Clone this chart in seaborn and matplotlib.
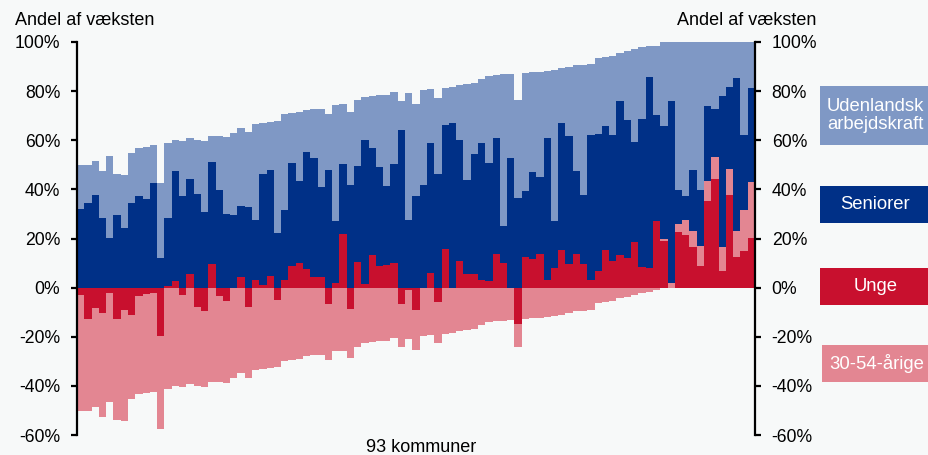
"""
Andel af vaeksten i arbejdsstyrken fordelt paa grupper, 93 kommuner.
"""

import numpy as np
import pandas as pd
import matplotlib
matplotlib.use("Agg")
import matplotlib.pyplot as plt
from matplotlib.patches import Rectangle
from matplotlib.ticker import FuncFormatter
import seaborn as sns

# andele i procent, en vaerdi pr. kommune (sorteret efter bidrag fra 30-54-aarige)
UDENLANDSK = [
    17.8, 15.2, 13.7, 19.0, 33.5, 16.7, 21.7, 20.4, 19.4, 21.3,
    15.3, 30.4, 30.4, 12.9, 22.1, 16.4, 21.9, 28.9, 10.6, 21.9,
    31.3, 33.3, 31.8, 30.5, 39.3, 20.6, 19.8, 45.9, 39.1, 20.2,
    28.0, 16.8, 20.1, 31.9, 22.9, 47.4, 24.2, 29.7, 26.6, 17.5,
    21.2, 29.1, 37.2, 29.2, 12.0, 51.6, 37.7, 38.8, 22.2, 31.2,
    15.0, 14.4, 22.7, 38.8, 29.0, 26.4, 35.2, 25.5, 61.8, 34.2,
    39.9, 48.0, 40.6, 42.7, 27.2, 61.5, 22.2, 28.1, 43.3, 52.9,
    28.9, 31.1, 28.4, 32.2, 19.8, 28.0, 38.0, 29.0, 12.5, 28.4,
    34.4, 24.2, 60.3, 62.5, 52.1, 60.1, 26.1, 27.3, 21.9, 18.4,
    14.7, 37.8, 18.9,
]
SENIORER = [
    32.2, 34.6, 37.8, 28.5, 20.1, 29.7, 24.2, 34.6, 37.5, 36.1,
    42.6, 12.1, 28.0, 44.7, 37.5, 38.7, 38.0, 30.6, 41.7, 39.9,
    30.1, 29.7, 28.9, 32.9, 24.4, 45.2, 42.8, 22.1, 28.4, 41.7,
    33.3, 47.8, 48.3, 36.7, 47.7, 25.1, 28.5, 41.7, 39.1, 58.8,
    43.7, 40.3, 31.9, 40.3, 64.0, 27.7, 37.1, 41.6, 52.6, 46.2,
    50.3, 67.2, 49.0, 38.2, 48.5, 55.4, 48.2, 47.3, 14.8, 52.6,
    36.3, 26.6, 35.3, 31.6, 58.0, 18.9, 51.9, 52.1, 33.7, 28.2,
    59.1, 55.7, 50.1, 51.5, 62.5, 56.2, 40.6, 60.5, 77.7, 42.9,
    45.6, 73.8, 13.8, 9.8, 24.9, 23.1, 30.6, 19.6, 61.5, 33.4,
    62.3, 30.7, 38.1,
]
UNGE = [
    -2.9, -12.6, -8.3, -10.5, -2.2, -12.6, -9.0, -11.0, -3.4, -2.4,
    -2.2, -19.8, 0.5, 2.6, -3.0, 5.7, -7.7, -9.4, 9.6, -3.3,
    -5.6, 0.0, 4.2, -8.0, 3.0, 1.2, 4.9, -5.2, 3.0, 9.0,
    10.0, 7.6, 4.3, 4.2, -6.5, 1.9, 21.9, -8.6, 10.5, 1.5,
    13.3, 9.0, 9.4, 10.2, -6.7, -0.8, -9.1, 0.0, 6.1, -5.7,
    15.8, 0.0, 10.9, 5.7, 5.7, 3.3, 2.7, 13.7, 10.2, 0.0,
    -14.8, 12.6, 11.7, 13.6, 3.1, 8.1, 15.3, 9.8, 13.7, 9.6,
    3.1, 6.8, 15.5, 10.7, 13.3, 12.1, 18.6, 8.3, 8.0, 27.2,
    18.9, 0.0, 22.5, 21.6, 16.4, 8.7, 35.2, 44.4, 6.7, 37.9,
    12.6, 14.8, 20.1,
]
AARIGE_30_54 = [
    -47.2, -37.8, -40.2, -42.1, -44.2, -41.2, -45.3, -34.2, -39.8, -40.4,
    -40.2, -37.8, -41.1, -39.9, -37.5, -39.2, -32.2, -31.2, -38.3, -35.1,
    -33.2, -36.8, -34.9, -28.8, -33.5, -33.3, -32.7, -27.0, -29.9, -29.3,
    -28.9, -28.0, -27.6, -27.3, -23.1, -25.7, -25.7, -20.2, -24.0, -22.5,
    -22.0, -21.7, -21.6, -20.5, -17.5, -20.0, -16.3, -19.7, -19.3, -17.0,
    -18.9, -18.5, -17.7, -17.4, -16.8, -15.1, -14.1, -13.7, -13.4, -13.3,
    -9.4, -12.9, -12.5, -12.2, -11.8, -11.5, -11.0, -10.3, -9.6, -9.6,
    -9.2, -6.4, -6.0, -5.6, -4.2, -3.8, -2.9, -2.0, -1.6, -1.1,
    1.1, 2.0, 3.4, 6.1, 6.6, 8.1, 8.1, 8.7, 9.9, 10.3,
    10.4, 16.7, 22.9,
]

FARVER = {
    "Udenlandsk\narbejdskraft": "#7F98C5",
    "Seniorer": "#003087",
    "Unge": "#C8102E",
    "30-54-årige": "#E38692",
}
BAGGRUND = "#F7F9F9"


def lav_tabel():
    df = pd.DataFrame({
        "nr": np.arange(1, len(UNGE) + 1),
        "udl": UDENLANDSK,
        "sen": SENIORER,
        "unge": UNGE,
        "mid": AARIGE_30_54,
    })
    unge_pos = df["unge"].clip(lower=0)
    unge_neg = df["unge"].clip(upper=0)
    mid_pos = df["mid"].clip(lower=0)
    mid_neg = df["mid"].clip(upper=0)
    # kumulerede hoejder til stablede soejler (tegnes fra stoerst til mindst)
    df["top_unge"] = unge_pos
    df["top_mid"] = unge_pos + mid_pos
    df["top_sen"] = df["top_mid"] + df["sen"]
    df["top_udl"] = df["top_sen"] + df["udl"]
    df["bund_unge"] = unge_neg
    df["bund_mid"] = unge_neg + mid_neg
    return df


def main():
    df = lav_tabel()
    sns.set_theme(style="white")
    plt.rcParams["font.family"] = ["Liberation Sans", "DejaVu Sans"]
    plt.rcParams["text.color"] = "black"

    fig = plt.figure(figsize=(9.29, 4.55), dpi=100, facecolor=BAGGRUND)
    ax = fig.add_axes([77 / 929, 1 - 435 / 455, (755 - 77) / 929, (435 - 42) / 455])
    ax.set_facecolor(BAGGRUND)

    lag = [
        ("top_udl", FARVER["Udenlandsk\narbejdskraft"]),
        ("top_sen", FARVER["Seniorer"]),
        ("top_mid", FARVER["30-54-årige"]),
        ("top_unge", FARVER["Unge"]),
        ("bund_mid", FARVER["30-54-årige"]),
        ("bund_unge", FARVER["Unge"]),
    ]
    for kol, farve in lag:
        sns.barplot(data=df, x="nr", y=kol, color=farve, saturation=1,
                    width=1.0, linewidth=0, errorbar=None, ax=ax)

    ax.set_xlim(-0.5, len(df) - 0.5)
    ax.set_ylim(-60, 100)
    ax.set_yticks(range(-60, 101, 20))
    ax.yaxis.set_major_formatter(FuncFormatter(lambda v, p: f"{v:.0f}%"))
    ax.set_xticks([])
    ax.set_xlabel("")
    ax.set_ylabel("")
    for side in ["top", "bottom"]:
        ax.spines[side].set_visible(False)
    for side in ["left", "right"]:
        ax.spines[side].set_visible(True)
        ax.spines[side].set_linewidth(1.6)
        ax.spines[side].set_color("black")
    ax.tick_params(axis="y", which="major", left=True, right=True,
                   labelleft=True, labelright=True, direction="out",
                   length=4, width=1.6, pad=8, labelsize=12.7, colors="black")

    fig.text(15 / 929, 1 - 25 / 455, "Andel af væksten", fontsize=13,
             ha="left", va="baseline")
    fig.text(816 / 929, 1 - 25 / 455, "Andel af væksten", fontsize=13,
             ha="right", va="baseline")
    fig.text(421 / 929, 1 - 447 / 455, "93 kommuner", fontsize=13,
             ha="center", va="center")

    # forklaringsbokse til hoejre
    bokse = [
        ("Udenlandsk\narbejdskraft", 820, 86, 145),
        ("Seniorer", 820, 186, 223),
        ("Unge", 820, 268, 305),
        ("30-54-årige", 822, 345, 382),
    ]
    for navn, x0, y0, y1 in bokse:
        fig.patches.append(Rectangle((x0 / 929, 1 - y1 / 455), (929 - x0) / 929,
                                     (y1 - y0) / 455, transform=fig.transFigure,
                                     facecolor=FARVER[navn], edgecolor="none"))
        fig.text((x0 + 929) / 2 / 929 + 1 / 929, 1 - (y0 + y1) / 2 / 455, navn,
                 color="white", fontsize=13.3, ha="center", va="center",
                 linespacing=1.05)

    fig.savefig("out.png", dpi=100, facecolor=BAGGRUND)
    plt.close(fig)


if __name__ == "__main__":
    main()
